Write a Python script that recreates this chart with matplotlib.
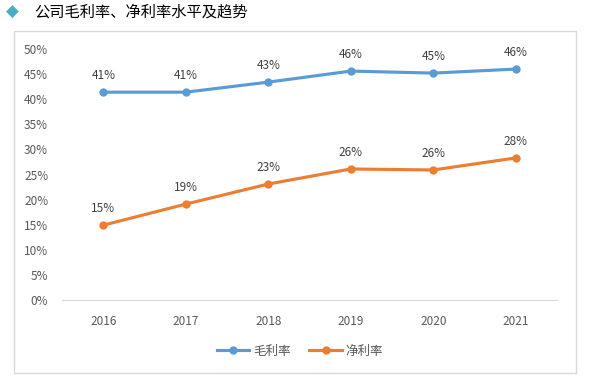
import matplotlib.pyplot as plt
from matplotlib.patches import Rectangle
from matplotlib.ticker import PercentFormatter

plt.rcParams['font.family'] = ['Noto Sans CJK SC', 'DejaVu Sans']

years = ['2016', '2017', '2018', '2019', '2020', '2021']
gross = [41.4, 41.4, 43.4, 45.6, 45.2, 46.0]
net = [14.9, 19.1, 23.1, 26.1, 25.9, 28.3]
gross_labels = ['41%', '41%', '43%', '46%', '45%', '46%']
net_labels = ['15%', '19%', '23%', '26%', '26%', '28%']

fig = plt.figure(figsize=(5.89, 3.83), dpi=100)

# title line with diamond bullet
fig.text(12/589, 1-12/383, '◆', color='#4BACC6', fontsize=12, ha='center', va='center', family=['DejaVu Sans'])
fig.text(34/589, 1-12/383, '公司毛利率、净利率水平及趋势', fontsize=11, ha='left', va='center', color='#000000')

# chart border
fig.patches.append(Rectangle((14/589, 1-373/383), 562/589, 342/383, transform=fig.transFigure,
                             fill=False, edgecolor='#D9D9D9', linewidth=1))

ax = fig.add_axes([62/589, 1-300/383, 495/589, 251/383])
x = range(len(years))
ax.plot(x, gross, color='#5B9BD5', linewidth=2.25, marker='o', markersize=5, label='毛利率')
ax.plot(x, net, color='#ED7D31', linewidth=2.25, marker='o', markersize=5, label='净利率')

for i in x:
    ax.annotate(gross_labels[i], (i, gross[i]), xytext=(0, 7), textcoords='offset points',
                ha='center', va='bottom', fontsize=8.5, color='#404040')
    ax.annotate(net_labels[i], (i, net[i]), xytext=(0, 7), textcoords='offset points',
                ha='center', va='bottom', fontsize=8.5, color='#404040')

ax.set_xlim(-0.5, len(years) - 0.5)
ax.set_ylim(0, 50)
ax.set_yticks(range(0, 51, 5))
ax.yaxis.set_major_formatter(PercentFormatter(decimals=0))
ax.set_xticks(list(x))
ax.set_xticklabels(years)
ax.tick_params(axis='both', length=0, labelsize=8.5, colors='#595959')
ax.tick_params(axis='x', pad=11)
ax.tick_params(axis='y', pad=10)
for s in ['top', 'right', 'left']:
    ax.spines[s].set_visible(False)
ax.spines['bottom'].set_color('#D9D9D9')

ax.legend(loc='center', bbox_to_anchor=(300/589, 1-351/383), bbox_transform=fig.transFigure,
          ncol=2, frameon=False, fontsize=9, labelcolor='#595959', handlelength=2.6,
          columnspacing=1.5, handletextpad=0.3)

fig.savefig('out.png', dpi=100)
